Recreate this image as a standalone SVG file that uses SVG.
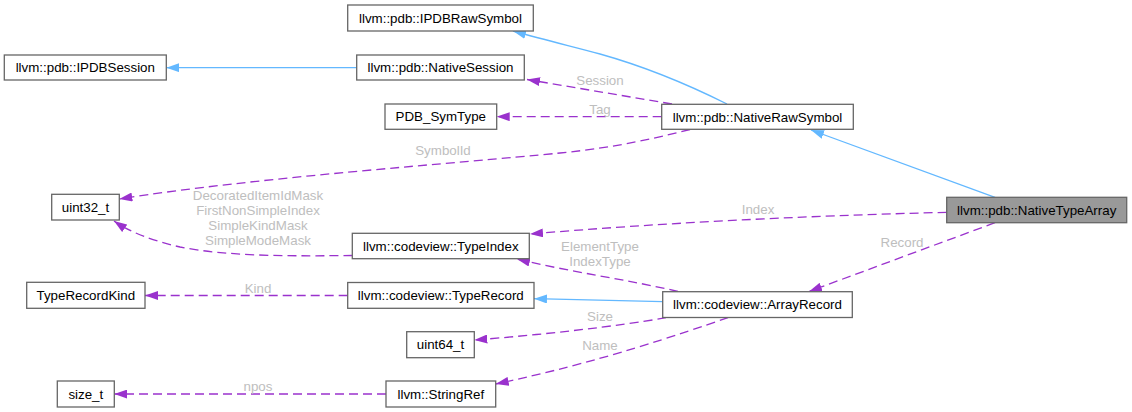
<svg xmlns="http://www.w3.org/2000/svg" width="1132" height="412" viewBox="0 0 1132 412">
<style>
.node rect{fill:#ffffff;stroke:#666666;stroke-width:1.3}
.node text{font-family:"Liberation Sans",Arial,sans-serif;font-size:13.33px;fill:#000000;text-anchor:middle}
#n_nta rect{fill:#999999}
.inh{fill:none;stroke:#63b8ff;stroke-width:1.3}
.use{fill:none;stroke:#9a32cd;stroke-width:1.3;stroke-dasharray:9,5}
.lbl{font-family:"Liberation Sans",Arial,sans-serif;font-size:13.33px;fill:#bebebe;text-anchor:middle}
</style>
<defs>
<marker id="ab" viewBox="0 0 13 9" refX="13" refY="4.5" markerWidth="13" markerHeight="9" markerUnits="userSpaceOnUse" orient="auto">
<path d="M0,0 L13,4.5 L0,9 z" fill="#63b8ff"/>
</marker>
<marker id="ap" viewBox="0 0 13 9" refX="13" refY="4.5" markerWidth="13" markerHeight="9" markerUnits="userSpaceOnUse" orient="auto">
<path d="M0,0 L13,4.5 L0,9 z" fill="#9a32cd"/>
</marker>
</defs>
<g id="edges">
<path class="inh" d="M356.7,67.7 L166.3,67.7" marker-end="url(#ab)"/>
<path class="inh" d="M727,104 C695,88 650,68 600,54 C570,46 545,40 513,31" marker-end="url(#ab)"/>
<path class="use" d="M672,104 L527,79.5" marker-end="url(#ap)"/>
<text class="lbl" x="600" y="85">Session</text>
<path class="use" d="M661.7,116.7 L496.7,116.7" marker-end="url(#ap)"/>
<text class="lbl" x="600" y="113.5">Tag</text>
<path class="use" d="M690,129.5 C660,137 620,147 560,153 C460,163 250,178 119.3,199" marker-end="url(#ap)"/>
<text class="lbl" x="443" y="155">SymbolId</text>
<path class="use" d="M352.3,255.5 C300,256 230,257 180,247 C150,240 130,232 114,221" marker-end="url(#ap)"/>
<text class="lbl" x="258" y="200">DecoratedItemIdMask</text>
<text class="lbl" x="258" y="215">FirstNonSimpleIndex</text>
<text class="lbl" x="258" y="230">SimpleKindMask</text>
<text class="lbl" x="258" y="244.5">SimpleModeMask</text>
<path class="inh" d="M995,197.3 L811,130" marker-end="url(#ab)"/>
<path class="use" d="M946.7,212.3 Q720,218 530,234" marker-end="url(#ap)"/>
<text class="lbl" x="758" y="214">Index</text>
<path class="use" d="M995,222.7 L809,291.5" marker-end="url(#ap)"/>
<text class="lbl" x="902" y="247">Record</text>
<path class="use" d="M678,291.5 C630,280 570,272 517,259" marker-end="url(#ap)"/>
<text class="lbl" x="600" y="251">ElementType</text>
<text class="lbl" x="600" y="266">IndexType</text>
<path class="inh" d="M662.7,301.7 L534,298.7" marker-end="url(#ab)"/>
<path class="use" d="M347.7,295.5 L145,295.5" marker-end="url(#ap)"/>
<text class="lbl" x="258" y="293">Kind</text>
<path class="use" d="M666,317.7 C620,326 540,335 474.3,340" marker-end="url(#ap)"/>
<text class="lbl" x="600" y="321">Size</text>
<path class="use" d="M728,317.7 C680,334 600,362 495.7,384" marker-end="url(#ap)"/>
<text class="lbl" x="600" y="350">Name</text>
<path class="use" d="M386,394 L114.3,394" marker-end="url(#ap)"/>
<text class="lbl" x="258" y="391">npos</text>
</g>
<g id="n_ipdbraw" class="node"><rect x="347.7" y="5" width="185.6" height="26"/><text x="440.5" y="22.7">llvm::pdb::IPDBRawSymbol</text></g>
<g id="n_ipdbsess" class="node"><rect x="4.3" y="55" width="162" height="25"/><text x="85.3" y="72.2">llvm::pdb::IPDBSession</text></g>
<g id="n_natsess" class="node"><rect x="356.7" y="55" width="167.6" height="25"/><text x="440.5" y="72.2">llvm::pdb::NativeSession</text></g>
<g id="n_pdbsym" class="node"><rect x="385" y="104" width="111.7" height="25.3"/><text x="440.8" y="121.4">PDB_SymType</text></g>
<g id="n_natraw" class="node"><rect x="661.7" y="104.3" width="191.6" height="25"/><text x="757.5" y="121.5">llvm::pdb::NativeRawSymbol</text></g>
<g id="n_uint32" class="node"><rect x="51.7" y="194.3" width="67.6" height="25.7"/><text x="85.5" y="211.8">uint32_t</text></g>
<g id="n_nta" class="node"><rect x="946.7" y="197.3" width="180" height="25.4"/><text x="1036.7" y="214.7">llvm::pdb::NativeTypeArray</text></g>
<g id="n_typeindex" class="node"><rect x="352.3" y="233.3" width="177" height="25.4"/><text x="440.8" y="250.7">llvm::codeview::TypeIndex</text></g>
<g id="n_trk" class="node"><rect x="26.7" y="282.3" width="118.3" height="26"/><text x="85.8" y="300">TypeRecordKind</text></g>
<g id="n_typerecord" class="node"><rect x="347.7" y="282.5" width="186.3" height="25.8"/><text x="440.8" y="300.1">llvm::codeview::TypeRecord</text></g>
<g id="n_arrayrecord" class="node"><rect x="662.7" y="291.7" width="189.6" height="25.8"/><text x="757.5" y="309.3">llvm::codeview::ArrayRecord</text></g>
<g id="n_uint64" class="node"><rect x="406.7" y="331.7" width="67.6" height="26"/><text x="440.5" y="349.4">uint64_t</text></g>
<g id="n_sizet" class="node"><rect x="57.3" y="381" width="57" height="26"/><text x="85.8" y="398.7">size_t</text></g>
<g id="n_stringref" class="node"><rect x="386" y="381" width="109.7" height="26"/><text x="440.8" y="398.7">llvm::StringRef</text></g>
</svg>
